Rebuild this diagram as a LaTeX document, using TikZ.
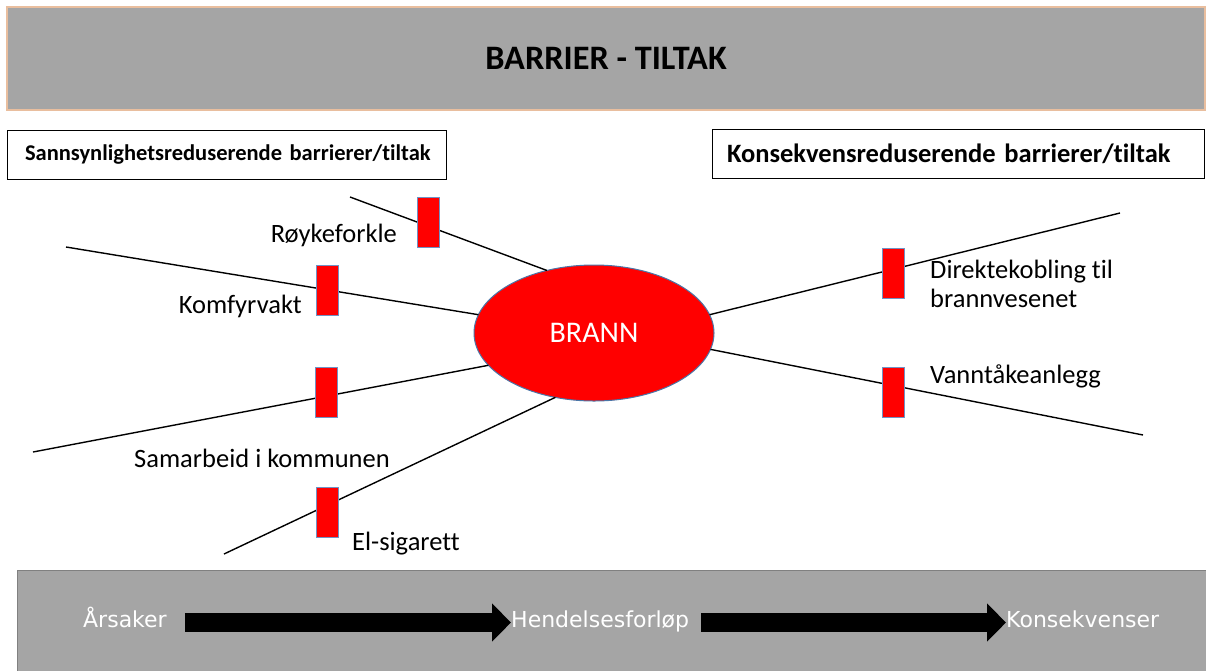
\documentclass[tikz,border=0pt]{standalone}
\usepackage{fontspec}
\setmainfont{Carlito}[Ligatures=NoCommon]
\newfontfamily\bandfont{DejaVu Sans}
\usetikzlibrary{arrows.meta, shapes.geometric, positioning}
\definecolor{bandgray}{RGB}{165,165,165}
\definecolor{peach}{RGB}{233,190,158}
\definecolor{barblue}{RGB}{112,146,196}
\definecolor{rimblue}{RGB}{74,118,168}
\tikzset{
  barrier/.style={draw=barblue, fill=red, line width=1pt, minimum width=22pt, minimum height=50pt, inner sep=0pt}, % the red blocks on the lines
  spoke/.style={draw=black, line width=1.4pt}, % lines running into the event
  header/.style={draw=black, line width=0.8pt, font=\bfseries\fontsize{26.5}{30}\selectfont, align=left, minimum height=49pt}, % boxes over each side
  tiltak/.style={font=\fontsize{26.5}{29}\selectfont, inner sep=0pt}, % names of the barriers
  phase/.style={font=\bandfont\fontsize{22}{26}\selectfont, text=white, inner sep=0pt}, % text in the bottom band
  bigarrow/.style={draw=black, line width=19pt, -{Triangle[length=19pt, width=37pt]}}, % fat arrows in the bottom band
}

\begin{document}
\begin{tikzpicture}[x=1pt, y=-1pt]
    \useasboundingbox (0,0) rectangle (1206,670);

    % title and headers
    \node[draw=peach, fill=bandgray, line width=1.5pt, minimum width=1198pt, minimum height=103pt, font=\bfseries\fontsize{34.3}{40}\selectfont] (TITLE) at (606,58.5) {BARRIER - TILTAK};
    \node[header, font=\bfseries\fontsize{22.5}{28}\selectfont, text width=403pt, inner xsep=18pt] (SANNSYNLIGHET) at (226.5,154.5) {\mbox{Sannsynlighetsreduserende barrierer/tiltak}};
    \node[header, text width=462pt, inner xsep=15pt] (KONSEKVENS) at (958,154) {\mbox{Konsekvensreduserende barrierer/tiltak}};

    % the event
    \node[ellipse, fill=red, draw=rimblue, line width=1pt, minimum width=240pt, minimum height=136pt, inner sep=0pt, outer sep=0pt, text=white, font=\fontsize{30}{34}\selectfont] (BRANN) at (594,333) {BRANN};

    \coordinate (ROYK_END) at (350,197);
    \coordinate (KOMF_END) at (66,247);
    \coordinate (SAMARB_END) at (33,452);
    \coordinate (EL_END) at (224,554);
    \coordinate (DIREKTE_END) at (1120,213);
    \coordinate (VANN_END) at (1143,435);

    \draw[spoke] (ROYK_END) -- (BRANN.127)
                 (KOMF_END) -- (BRANN.171)
                 (SAMARB_END) -- (BRANN.197)
                 (EL_END) -- (BRANN.239)
                 (BRANN.9) -- (DIREKTE_END)
                 (BRANN.352) -- (VANN_END);

    % barriers
    \node[barrier] (ROYKEFORKLE) at (428,222.5) {};
    \node[barrier] (KOMFYRVAKT) at (327,290.5) {};
    \node[barrier] (SAMARBEID) at (326.5,392.5) {};
    \node[barrier] (EL_SIGARETT) at (327.5,512) {};
    \node[barrier] (DIREKTEKOBLING) at (893,273) {};
    \node[barrier] (VANNTAKE) at (893,392.5) {};

    \node[tiltak, anchor=base east] at (397,242) {Røykeforkle};
    \node[tiltak, anchor=base east] at (302,313) {Komfyrvakt};
    \node[tiltak, anchor=base west] at (134,467) {Samarbeid i kommunen};
    \node[tiltak, anchor=base west] at (352,550) {El-sigarett};
    \node[tiltak, anchor=base west, align=left] at (930,307) {Direktekobling til\\brannvesenet};
    \node[tiltak, anchor=base west] at (930,383) {Vanntåkeanlegg};

    % bottom band
    \node[draw=gray, fill=bandgray, line width=0.8pt, minimum width=1189pt, minimum height=101pt] (BAND) at (611.5,620.5) {};
    \node[phase, anchor=base west] (ARSAKER) at (83,627) {Årsaker};
    \node[phase, anchor=base west] (HENDELSE) at (511,627) {Hendelsesforløp};
    \node[phase, anchor=base west] (KONSEKVENSER) at (1006,627) {Konsekvenser};

    \draw[bigarrow, shorten <=18pt] ([yshift=4.5pt]ARSAKER.base east) -- ([yshift=4.5pt]HENDELSE.base west);
    \draw[bigarrow, shorten <=12pt] ([yshift=4.5pt]HENDELSE.base east) -- ([yshift=4.5pt]KONSEKVENSER.base west);
\end{tikzpicture}
\end{document}
